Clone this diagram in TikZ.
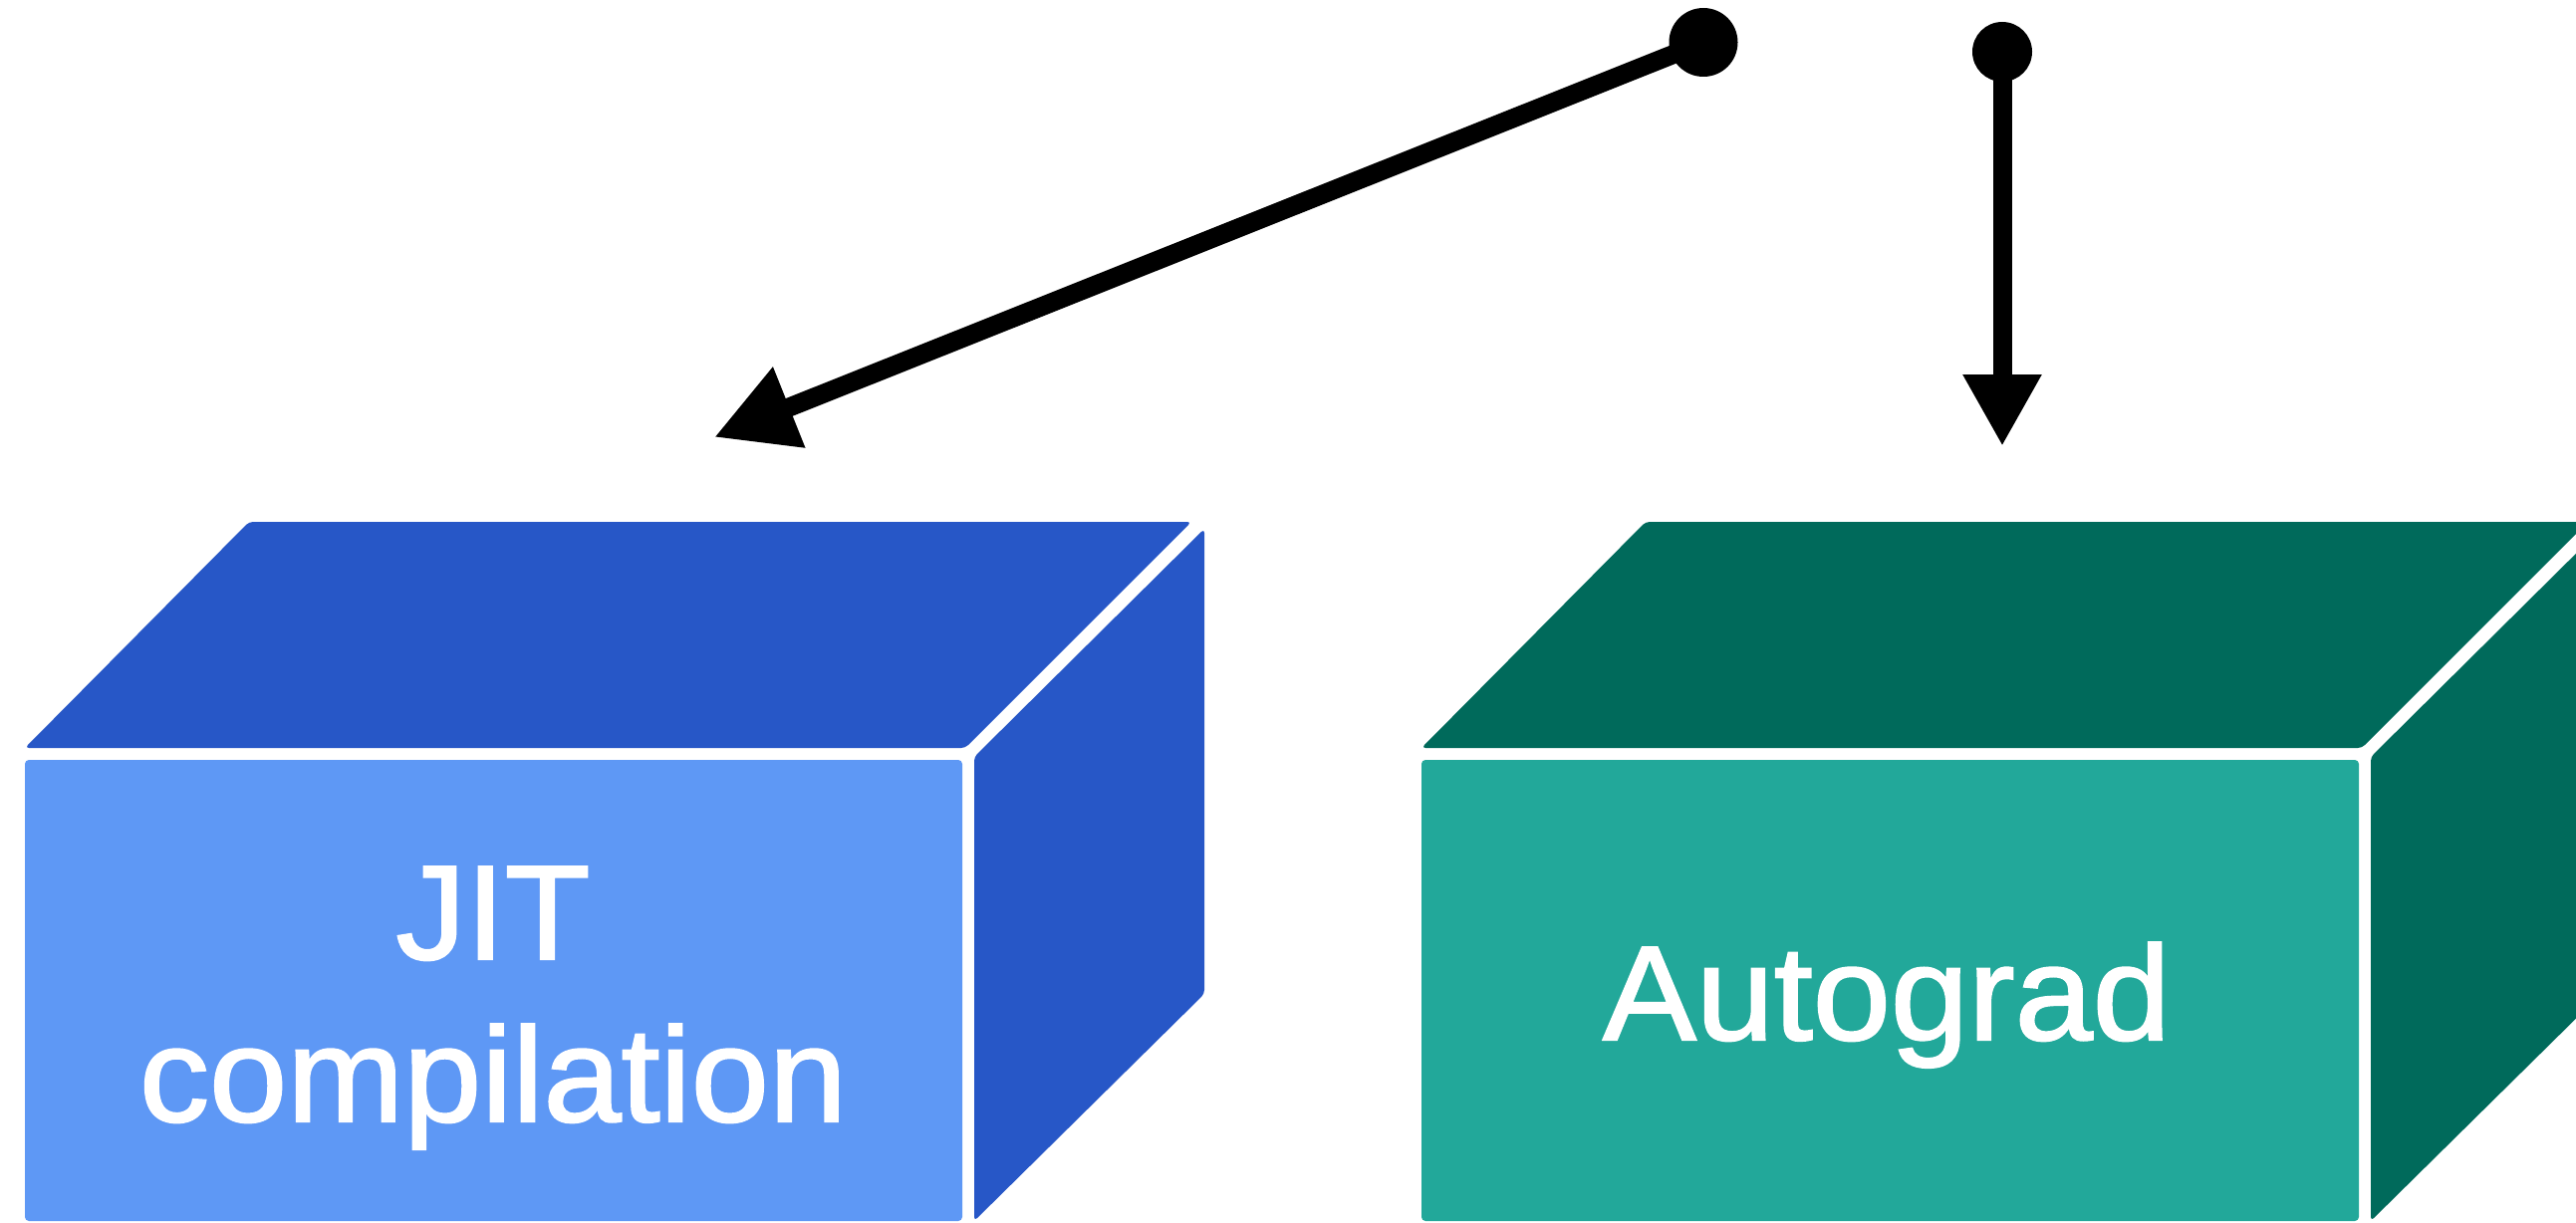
\documentclass[tikz,border=0pt]{standalone}
\usepackage{fontspec}
\newfontfamily\lblfont[FakeStretch=1.04,FakeBold=1.6]{Liberation Sans}
\usetikzlibrary{arrows.meta}
\definecolor{bluedark}{RGB}{39,87,199}
\definecolor{bluelight}{RGB}{94,152,245}
\definecolor{greendark}{RGB}{0,106,91}
\definecolor{greenlight}{RGB}{34,168,154}
\begin{document}
\begin{tikzpicture}[x=1pt,y=-1pt,
  face/.style={rounded corners=4pt},
  lbl/.style={text=white,font=\lblfont\fontsize{135}{162}\selectfont,inner sep=0pt,anchor=base},
  conn/.style={line width=19pt,shorten <=-20pt},
  dot/.style={circle,fill=black,inner sep=0pt}]
\useasboundingbox (0,0) rectangle (2586,1228);
\clip (0,0) rectangle (2586,1228);
\fill[white] (0,0) rectangle (2586,1228);

% left cube
\fill[face,bluelight] (25,763) rectangle (966,1226);
\fill[face,bluedark] (25,751) -- (250,524) -- (1196,524) -- (969,751) -- cycle;
\fill[face,bluedark] (978,760) -- (1209,531) -- (1209,998) -- (978,1226) -- cycle;
\node[lbl] (jit) at (495,963) {JIT};
\node[lbl] (comp) at (495,1126) {compilation};

% right cube
\begin{scope}[shift={(1402,0)}]
\fill[face,greenlight] (25,763) rectangle (966,1226);
\fill[face,greendark] (25,751) -- (250,524) -- (1196,524) -- (969,751) -- cycle;
\fill[face,greendark] (978,760) -- (1209,531) -- (1209,998) -- (978,1226) -- cycle;
\end{scope}
\node[lbl] (autograd) at (1894,1044) {Autograd};

% arrows
\node[dot,minimum size=69pt] (s1) at (1710,42.5) {};
\node[dot,minimum size=60pt] (s2) at (2010,52) {};
\coordinate (t1) at (717,439);
\coordinate (t2) at (2010,448);
\draw[conn,-{Triangle[length=81pt,width=82pt]}] (s1) -- (t1);
\draw[conn,-{Triangle[length=72pt,width=74pt]}] (s2) -- (t2);
\end{tikzpicture}
\end{document}
